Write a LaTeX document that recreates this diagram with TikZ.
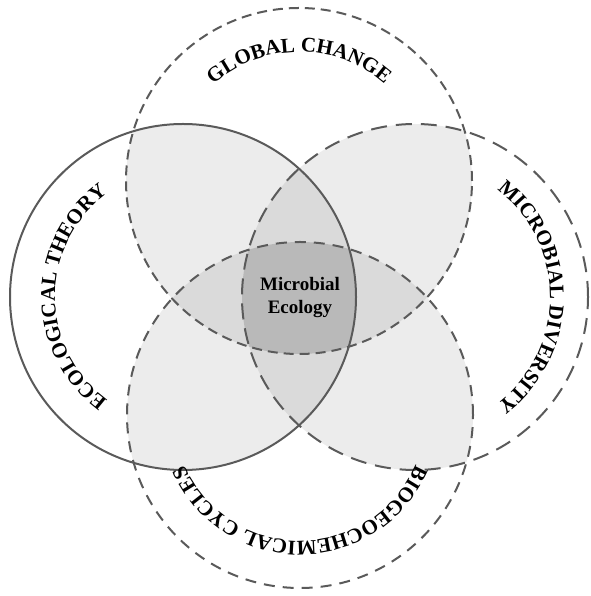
\documentclass[tikz,border=0pt]{standalone}
\usepackage{fontspec}
\setmainfont{Liberation Serif}
\usetikzlibrary{decorations.text}
\definecolor{ringline}{HTML}{5A5A5A}
\definecolor{twofill}{HTML}{ECECEC}
\definecolor{threefill}{HTML}{DADADA}
\definecolor{fourfill}{HTML}{B9B9B9}
\newcommand{\ringfont}{\bfseries\fontsize{21}{24}\selectfont}
\tikzset{
  ring/.style={draw=ringline, line width=2pt},
  ringlabel/.style={decorate, decoration={text along path, text align=center, text={|\ringfont|#1}}},
}
\begin{document}
\begin{tikzpicture}[x=1pt, y=1pt]
  \useasboundingbox (0,0) rectangle (590,596);
  \def\rad{173}
  \coordinate (change) at (299,415);
  \coordinate (theory) at (183,299);
  \coordinate (diversity) at (415,299);
  \coordinate (cycles) at (300,181);
  % shading of the overlaps
  \foreach \a/\b in {change/theory, change/diversity, change/cycles, theory/diversity, theory/cycles, diversity/cycles}{
    \begin{scope}
      \clip (\a) circle[radius=\rad];
      \fill[twofill] (\b) circle[radius=\rad];
    \end{scope}
  }
  \foreach \a/\b/\c in {change/theory/diversity, change/theory/cycles, change/diversity/cycles, theory/diversity/cycles}{
    \begin{scope}
      \clip (\a) circle[radius=\rad];
      \clip (\b) circle[radius=\rad];
      \fill[threefill] (\c) circle[radius=\rad];
    \end{scope}
  }
  \begin{scope}
    \clip (change) circle[radius=\rad];
    \clip (theory) circle[radius=\rad];
    \clip (diversity) circle[radius=\rad];
    \fill[fourfill] (cycles) circle[radius=\rad];
  \end{scope}
  % the four rings
  \draw[ring, dash pattern=on 10pt off 6pt] (change) circle[radius=\rad];
  \draw[ring] (theory) circle[radius=\rad];
  \draw[ring, dash pattern=on 16pt off 9pt] (diversity) circle[radius=\rad];
  \draw[ring, dash pattern=on 11pt off 8pt] (cycles) circle[radius=\rad];
  % labels
  \path[ringlabel={GLOBAL CHANGE}] ([shift={(150:129)}]change) arc[start angle=150, end angle=30, radius=129];
  \path[ringlabel={ECOLOGICAL THEORY}] ([shift={(235:128)}]theory) arc[start angle=235, end angle=125, radius=128];
  \path[ringlabel={MICROBIAL DIVERSITY}] ([shift={(65:135)}]diversity) arc[start angle=65, end angle=-65, radius=135];
  \path[ringlabel={BIOGEOCHEMICAL CYCLES}] ([shift={(-15:126)}]cycles) arc[start angle=-15, end angle=-165, radius=126];
  \node[font=\bfseries\fontsize{19}{23}\selectfont, align=center] (core) at (300,298) {Microbial\\Ecology};
\end{tikzpicture}
\end{document}
